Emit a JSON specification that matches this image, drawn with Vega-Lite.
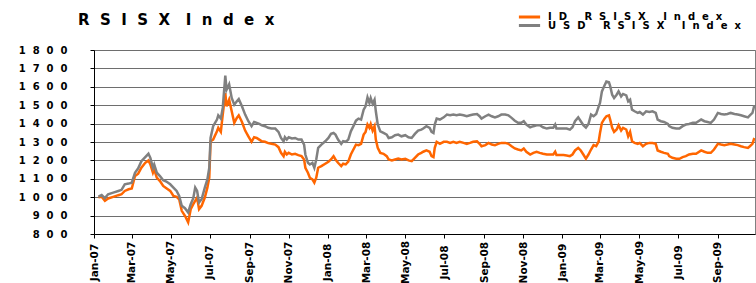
{
"$schema": "https://vega.github.io/schema/vega-lite/v6.json",
"width": 661,
"height": 184,
"autosize": {"type": "none"},
"padding": {"left": 94, "top": 50, "right": 1, "bottom": 49},
"background": "white",
"title": {"text": "R\u00a0\u00a0S\u00a0\u00a0I\u00a0\u00a0S\u00a0\u00a0X\u00a0\u00a0\u00a0I\u00a0\u00a0n\u00a0\u00a0d\u00a0\u00a0e\u00a0\u00a0x", "anchor": "start", "frame": "group", "dx": -16, "offset": -23.5, "font": "DejaVu Sans", "fontSize": 15, "fontWeight": "bold", "color": "black"},
"data": {"values": [
{"date":"2007-01-08","ID RSISX Index":1000,"USD RSISX Index":1003},
{"date":"2007-01-13","ID RSISX Index":1002,"USD RSISX Index":1012},
{"date":"2007-01-18","ID RSISX Index":980,"USD RSISX Index":995},
{"date":"2007-01-23","ID RSISX Index":993,"USD RSISX Index":1016},
{"date":"2007-01-31","ID RSISX Index":1002,"USD RSISX Index":1025},
{"date":"2007-02-08","ID RSISX Index":1011,"USD RSISX Index":1034},
{"date":"2007-02-13","ID RSISX Index":1016,"USD RSISX Index":1040},
{"date":"2007-02-18","ID RSISX Index":1034,"USD RSISX Index":1070},
{"date":"2007-02-24","ID RSISX Index":1043,"USD RSISX Index":1074},
{"date":"2007-03-01","ID RSISX Index":1047,"USD RSISX Index":1079},
{"date":"2007-03-06","ID RSISX Index":1115,"USD RSISX Index":1133},
{"date":"2007-03-11","ID RSISX Index":1128,"USD RSISX Index":1157},
{"date":"2007-03-16","ID RSISX Index":1160,"USD RSISX Index":1196},
{"date":"2007-03-22","ID RSISX Index":1187,"USD RSISX Index":1218},
{"date":"2007-03-27","ID RSISX Index":1200,"USD RSISX Index":1236},
{"date":"2007-03-30","ID RSISX Index":1178,"USD RSISX Index":1214},
{"date":"2007-04-03","ID RSISX Index":1133,"USD RSISX Index":1160},
{"date":"2007-04-05","ID RSISX Index":1151,"USD RSISX Index":1178},
{"date":"2007-04-09","ID RSISX Index":1106,"USD RSISX Index":1133},
{"date":"2007-04-14","ID RSISX Index":1088,"USD RSISX Index":1115},
{"date":"2007-04-19","ID RSISX Index":1061,"USD RSISX Index":1092},
{"date":"2007-04-24","ID RSISX Index":1049,"USD RSISX Index":1085},
{"date":"2007-04-30","ID RSISX Index":1034,"USD RSISX Index":1070},
{"date":"2007-05-05","ID RSISX Index":1007,"USD RSISX Index":1052},
{"date":"2007-05-10","ID RSISX Index":1002,"USD RSISX Index":1034},
{"date":"2007-05-14","ID RSISX Index":989,"USD RSISX Index":1007},
{"date":"2007-05-18","ID RSISX Index":926,"USD RSISX Index":953},
{"date":"2007-05-23","ID RSISX Index":899,"USD RSISX Index":940},
{"date":"2007-05-28","ID RSISX Index":863,"USD RSISX Index":917},
{"date":"2007-06-01","ID RSISX Index":935,"USD RSISX Index":962},
{"date":"2007-06-05","ID RSISX Index":962,"USD RSISX Index":995},
{"date":"2007-06-08","ID RSISX Index":980,"USD RSISX Index":1052},
{"date":"2007-06-11","ID RSISX Index":998,"USD RSISX Index":1034},
{"date":"2007-06-14","ID RSISX Index":935,"USD RSISX Index":971},
{"date":"2007-06-18","ID RSISX Index":953,"USD RSISX Index":989},
{"date":"2007-06-23","ID RSISX Index":998,"USD RSISX Index":1052},
{"date":"2007-06-27","ID RSISX Index":1052,"USD RSISX Index":1097},
{"date":"2007-06-30","ID RSISX Index":1106,"USD RSISX Index":1160},
{"date":"2007-07-02","ID RSISX Index":1304,"USD RSISX Index":1322},
{"date":"2007-07-06","ID RSISX Index":1313,"USD RSISX Index":1386},
{"date":"2007-07-12","ID RSISX Index":1359,"USD RSISX Index":1422},
{"date":"2007-07-14","ID RSISX Index":1377,"USD RSISX Index":1445},
{"date":"2007-07-18","ID RSISX Index":1355,"USD RSISX Index":1427},
{"date":"2007-07-21","ID RSISX Index":1449,"USD RSISX Index":1485},
{"date":"2007-07-25","ID RSISX Index":1566,"USD RSISX Index":1661},
{"date":"2007-07-27","ID RSISX Index":1494,"USD RSISX Index":1584},
{"date":"2007-07-31","ID RSISX Index":1530,"USD RSISX Index":1614},
{"date":"2007-08-04","ID RSISX Index":1467,"USD RSISX Index":1539},
{"date":"2007-08-08","ID RSISX Index":1404,"USD RSISX Index":1503},
{"date":"2007-08-12","ID RSISX Index":1431,"USD RSISX Index":1521},
{"date":"2007-08-15","ID RSISX Index":1445,"USD RSISX Index":1533},
{"date":"2007-08-20","ID RSISX Index":1409,"USD RSISX Index":1494},
{"date":"2007-08-25","ID RSISX Index":1362,"USD RSISX Index":1449},
{"date":"2007-08-30","ID RSISX Index":1331,"USD RSISX Index":1413},
{"date":"2007-09-04","ID RSISX Index":1301,"USD RSISX Index":1386},
{"date":"2007-09-08","ID RSISX Index":1326,"USD RSISX Index":1409},
{"date":"2007-09-12","ID RSISX Index":1322,"USD RSISX Index":1404},
{"date":"2007-09-16","ID RSISX Index":1313,"USD RSISX Index":1398},
{"date":"2007-09-20","ID RSISX Index":1304,"USD RSISX Index":1391},
{"date":"2007-09-25","ID RSISX Index":1301,"USD RSISX Index":1386},
{"date":"2007-09-30","ID RSISX Index":1294,"USD RSISX Index":1377},
{"date":"2007-10-05","ID RSISX Index":1290,"USD RSISX Index":1373},
{"date":"2007-10-11","ID RSISX Index":1286,"USD RSISX Index":1373},
{"date":"2007-10-16","ID RSISX Index":1272,"USD RSISX Index":1355},
{"date":"2007-10-20","ID RSISX Index":1241,"USD RSISX Index":1322},
{"date":"2007-10-24","ID RSISX Index":1223,"USD RSISX Index":1304},
{"date":"2007-10-26","ID RSISX Index":1247,"USD RSISX Index":1326},
{"date":"2007-10-29","ID RSISX Index":1232,"USD RSISX Index":1313},
{"date":"2007-11-01","ID RSISX Index":1241,"USD RSISX Index":1326},
{"date":"2007-11-06","ID RSISX Index":1232,"USD RSISX Index":1319},
{"date":"2007-11-11","ID RSISX Index":1236,"USD RSISX Index":1322},
{"date":"2007-11-16","ID RSISX Index":1229,"USD RSISX Index":1313},
{"date":"2007-11-21","ID RSISX Index":1223,"USD RSISX Index":1313},
{"date":"2007-11-25","ID RSISX Index":1205,"USD RSISX Index":1286},
{"date":"2007-11-27","ID RSISX Index":1160,"USD RSISX Index":1232},
{"date":"2007-12-01","ID RSISX Index":1133,"USD RSISX Index":1187},
{"date":"2007-12-04","ID RSISX Index":1106,"USD RSISX Index":1178},
{"date":"2007-12-08","ID RSISX Index":1097,"USD RSISX Index":1187},
{"date":"2007-12-11","ID RSISX Index":1079,"USD RSISX Index":1160},
{"date":"2007-12-14","ID RSISX Index":1106,"USD RSISX Index":1205},
{"date":"2007-12-17","ID RSISX Index":1160,"USD RSISX Index":1268},
{"date":"2007-12-22","ID RSISX Index":1169,"USD RSISX Index":1286},
{"date":"2007-12-28","ID RSISX Index":1182,"USD RSISX Index":1304},
{"date":"2008-01-02","ID RSISX Index":1193,"USD RSISX Index":1322},
{"date":"2008-01-06","ID RSISX Index":1205,"USD RSISX Index":1344},
{"date":"2008-01-10","ID RSISX Index":1223,"USD RSISX Index":1349},
{"date":"2008-01-13","ID RSISX Index":1205,"USD RSISX Index":1340},
{"date":"2008-01-17","ID RSISX Index":1187,"USD RSISX Index":1313},
{"date":"2008-01-22","ID RSISX Index":1169,"USD RSISX Index":1290},
{"date":"2008-01-25","ID RSISX Index":1182,"USD RSISX Index":1304},
{"date":"2008-01-29","ID RSISX Index":1178,"USD RSISX Index":1301},
{"date":"2008-02-02","ID RSISX Index":1193,"USD RSISX Index":1313},
{"date":"2008-02-06","ID RSISX Index":1232,"USD RSISX Index":1358},
{"date":"2008-02-10","ID RSISX Index":1259,"USD RSISX Index":1386},
{"date":"2008-02-14","ID RSISX Index":1286,"USD RSISX Index":1416},
{"date":"2008-02-18","ID RSISX Index":1283,"USD RSISX Index":1427},
{"date":"2008-02-22","ID RSISX Index":1290,"USD RSISX Index":1422},
{"date":"2008-02-26","ID RSISX Index":1340,"USD RSISX Index":1476},
{"date":"2008-02-29","ID RSISX Index":1355,"USD RSISX Index":1494},
{"date":"2008-03-03","ID RSISX Index":1395,"USD RSISX Index":1542},
{"date":"2008-03-06","ID RSISX Index":1377,"USD RSISX Index":1512},
{"date":"2008-03-08","ID RSISX Index":1397,"USD RSISX Index":1539},
{"date":"2008-03-11","ID RSISX Index":1362,"USD RSISX Index":1508},
{"date":"2008-03-14","ID RSISX Index":1386,"USD RSISX Index":1530},
{"date":"2008-03-16","ID RSISX Index":1313,"USD RSISX Index":1467},
{"date":"2008-03-19","ID RSISX Index":1268,"USD RSISX Index":1395},
{"date":"2008-03-23","ID RSISX Index":1241,"USD RSISX Index":1358},
{"date":"2008-03-28","ID RSISX Index":1236,"USD RSISX Index":1349},
{"date":"2008-04-02","ID RSISX Index":1223,"USD RSISX Index":1340},
{"date":"2008-04-05","ID RSISX Index":1205,"USD RSISX Index":1322},
{"date":"2008-04-10","ID RSISX Index":1200,"USD RSISX Index":1326},
{"date":"2008-04-15","ID RSISX Index":1205,"USD RSISX Index":1337},
{"date":"2008-04-20","ID RSISX Index":1210,"USD RSISX Index":1340},
{"date":"2008-04-25","ID RSISX Index":1205,"USD RSISX Index":1331},
{"date":"2008-05-01","ID RSISX Index":1209,"USD RSISX Index":1337},
{"date":"2008-05-06","ID RSISX Index":1200,"USD RSISX Index":1326},
{"date":"2008-05-11","ID RSISX Index":1196,"USD RSISX Index":1322},
{"date":"2008-05-16","ID RSISX Index":1214,"USD RSISX Index":1344},
{"date":"2008-05-21","ID RSISX Index":1232,"USD RSISX Index":1362},
{"date":"2008-05-26","ID RSISX Index":1241,"USD RSISX Index":1367},
{"date":"2008-05-29","ID RSISX Index":1247,"USD RSISX Index":1373},
{"date":"2008-06-03","ID RSISX Index":1254,"USD RSISX Index":1386},
{"date":"2008-06-08","ID RSISX Index":1247,"USD RSISX Index":1377},
{"date":"2008-06-11","ID RSISX Index":1223,"USD RSISX Index":1355},
{"date":"2008-06-14","ID RSISX Index":1218,"USD RSISX Index":1349},
{"date":"2008-06-16","ID RSISX Index":1268,"USD RSISX Index":1395},
{"date":"2008-06-19","ID RSISX Index":1301,"USD RSISX Index":1427},
{"date":"2008-06-24","ID RSISX Index":1290,"USD RSISX Index":1422},
{"date":"2008-06-30","ID RSISX Index":1301,"USD RSISX Index":1434},
{"date":"2008-07-05","ID RSISX Index":1301,"USD RSISX Index":1449},
{"date":"2008-07-10","ID RSISX Index":1295,"USD RSISX Index":1445},
{"date":"2008-07-15","ID RSISX Index":1301,"USD RSISX Index":1449},
{"date":"2008-07-20","ID RSISX Index":1295,"USD RSISX Index":1445},
{"date":"2008-07-25","ID RSISX Index":1301,"USD RSISX Index":1449},
{"date":"2008-07-31","ID RSISX Index":1295,"USD RSISX Index":1445},
{"date":"2008-08-05","ID RSISX Index":1290,"USD RSISX Index":1440},
{"date":"2008-08-10","ID RSISX Index":1295,"USD RSISX Index":1445},
{"date":"2008-08-15","ID RSISX Index":1301,"USD RSISX Index":1449},
{"date":"2008-08-21","ID RSISX Index":1304,"USD RSISX Index":1452},
{"date":"2008-08-25","ID RSISX Index":1290,"USD RSISX Index":1440},
{"date":"2008-08-28","ID RSISX Index":1277,"USD RSISX Index":1427},
{"date":"2008-09-03","ID RSISX Index":1283,"USD RSISX Index":1440},
{"date":"2008-09-08","ID RSISX Index":1295,"USD RSISX Index":1449},
{"date":"2008-09-13","ID RSISX Index":1286,"USD RSISX Index":1440},
{"date":"2008-09-18","ID RSISX Index":1283,"USD RSISX Index":1434},
{"date":"2008-09-23","ID RSISX Index":1290,"USD RSISX Index":1440},
{"date":"2008-09-28","ID RSISX Index":1295,"USD RSISX Index":1449},
{"date":"2008-10-04","ID RSISX Index":1295,"USD RSISX Index":1449},
{"date":"2008-10-09","ID RSISX Index":1290,"USD RSISX Index":1445},
{"date":"2008-10-14","ID RSISX Index":1277,"USD RSISX Index":1431},
{"date":"2008-10-19","ID RSISX Index":1265,"USD RSISX Index":1416},
{"date":"2008-10-24","ID RSISX Index":1259,"USD RSISX Index":1404},
{"date":"2008-10-29","ID RSISX Index":1254,"USD RSISX Index":1404},
{"date":"2008-11-02","ID RSISX Index":1265,"USD RSISX Index":1413},
{"date":"2008-11-06","ID RSISX Index":1247,"USD RSISX Index":1395},
{"date":"2008-11-12","ID RSISX Index":1232,"USD RSISX Index":1380},
{"date":"2008-11-17","ID RSISX Index":1241,"USD RSISX Index":1386},
{"date":"2008-11-22","ID RSISX Index":1247,"USD RSISX Index":1391},
{"date":"2008-11-27","ID RSISX Index":1241,"USD RSISX Index":1391},
{"date":"2008-12-02","ID RSISX Index":1236,"USD RSISX Index":1380},
{"date":"2008-12-08","ID RSISX Index":1232,"USD RSISX Index":1373},
{"date":"2008-12-13","ID RSISX Index":1232,"USD RSISX Index":1377},
{"date":"2008-12-18","ID RSISX Index":1232,"USD RSISX Index":1377},
{"date":"2008-12-21","ID RSISX Index":1247,"USD RSISX Index":1395},
{"date":"2008-12-23","ID RSISX Index":1229,"USD RSISX Index":1373},
{"date":"2008-12-29","ID RSISX Index":1229,"USD RSISX Index":1373},
{"date":"2009-01-03","ID RSISX Index":1229,"USD RSISX Index":1373},
{"date":"2009-01-08","ID RSISX Index":1227,"USD RSISX Index":1373},
{"date":"2009-01-13","ID RSISX Index":1223,"USD RSISX Index":1367},
{"date":"2009-01-17","ID RSISX Index":1232,"USD RSISX Index":1380},
{"date":"2009-01-21","ID RSISX Index":1254,"USD RSISX Index":1413},
{"date":"2009-01-26","ID RSISX Index":1268,"USD RSISX Index":1434},
{"date":"2009-01-30","ID RSISX Index":1254,"USD RSISX Index":1413},
{"date":"2009-02-03","ID RSISX Index":1232,"USD RSISX Index":1391},
{"date":"2009-02-07","ID RSISX Index":1210,"USD RSISX Index":1378},
{"date":"2009-02-11","ID RSISX Index":1232,"USD RSISX Index":1398},
{"date":"2009-02-15","ID RSISX Index":1259,"USD RSISX Index":1449},
{"date":"2009-02-19","ID RSISX Index":1283,"USD RSISX Index":1440},
{"date":"2009-02-23","ID RSISX Index":1277,"USD RSISX Index":1452},
{"date":"2009-02-27","ID RSISX Index":1304,"USD RSISX Index":1494},
{"date":"2009-03-01","ID RSISX Index":1349,"USD RSISX Index":1512},
{"date":"2009-03-04","ID RSISX Index":1404,"USD RSISX Index":1575},
{"date":"2009-03-08","ID RSISX Index":1427,"USD RSISX Index":1607},
{"date":"2009-03-11","ID RSISX Index":1440,"USD RSISX Index":1629},
{"date":"2009-03-15","ID RSISX Index":1445,"USD RSISX Index":1625},
{"date":"2009-03-17","ID RSISX Index":1420,"USD RSISX Index":1602},
{"date":"2009-03-20","ID RSISX Index":1377,"USD RSISX Index":1557},
{"date":"2009-03-23","ID RSISX Index":1355,"USD RSISX Index":1539},
{"date":"2009-03-27","ID RSISX Index":1368,"USD RSISX Index":1557},
{"date":"2009-03-30","ID RSISX Index":1391,"USD RSISX Index":1575},
{"date":"2009-04-03","ID RSISX Index":1362,"USD RSISX Index":1548},
{"date":"2009-04-06","ID RSISX Index":1377,"USD RSISX Index":1561},
{"date":"2009-04-11","ID RSISX Index":1368,"USD RSISX Index":1553},
{"date":"2009-04-14","ID RSISX Index":1331,"USD RSISX Index":1521},
{"date":"2009-04-17","ID RSISX Index":1355,"USD RSISX Index":1530},
{"date":"2009-04-20","ID RSISX Index":1304,"USD RSISX Index":1476},
{"date":"2009-04-24","ID RSISX Index":1295,"USD RSISX Index":1467},
{"date":"2009-04-29","ID RSISX Index":1290,"USD RSISX Index":1458},
{"date":"2009-05-02","ID RSISX Index":1295,"USD RSISX Index":1463},
{"date":"2009-05-07","ID RSISX Index":1277,"USD RSISX Index":1449},
{"date":"2009-05-12","ID RSISX Index":1290,"USD RSISX Index":1467},
{"date":"2009-05-17","ID RSISX Index":1295,"USD RSISX Index":1463},
{"date":"2009-05-22","ID RSISX Index":1294,"USD RSISX Index":1467},
{"date":"2009-05-27","ID RSISX Index":1290,"USD RSISX Index":1458},
{"date":"2009-05-30","ID RSISX Index":1254,"USD RSISX Index":1422},
{"date":"2009-06-04","ID RSISX Index":1247,"USD RSISX Index":1413},
{"date":"2009-06-09","ID RSISX Index":1241,"USD RSISX Index":1409},
{"date":"2009-06-15","ID RSISX Index":1236,"USD RSISX Index":1398},
{"date":"2009-06-17","ID RSISX Index":1223,"USD RSISX Index":1386},
{"date":"2009-06-22","ID RSISX Index":1214,"USD RSISX Index":1377},
{"date":"2009-06-28","ID RSISX Index":1209,"USD RSISX Index":1373},
{"date":"2009-07-03","ID RSISX Index":1209,"USD RSISX Index":1373},
{"date":"2009-07-08","ID RSISX Index":1218,"USD RSISX Index":1386},
{"date":"2009-07-13","ID RSISX Index":1223,"USD RSISX Index":1395},
{"date":"2009-07-18","ID RSISX Index":1232,"USD RSISX Index":1398},
{"date":"2009-07-24","ID RSISX Index":1236,"USD RSISX Index":1404},
{"date":"2009-07-29","ID RSISX Index":1236,"USD RSISX Index":1404},
{"date":"2009-08-06","ID RSISX Index":1254,"USD RSISX Index":1422},
{"date":"2009-08-11","ID RSISX Index":1247,"USD RSISX Index":1413},
{"date":"2009-08-16","ID RSISX Index":1241,"USD RSISX Index":1409},
{"date":"2009-08-21","ID RSISX Index":1241,"USD RSISX Index":1404},
{"date":"2009-08-26","ID RSISX Index":1259,"USD RSISX Index":1422},
{"date":"2009-09-01","ID RSISX Index":1290,"USD RSISX Index":1458},
{"date":"2009-09-06","ID RSISX Index":1286,"USD RSISX Index":1452},
{"date":"2009-09-11","ID RSISX Index":1283,"USD RSISX Index":1449},
{"date":"2009-09-16","ID RSISX Index":1286,"USD RSISX Index":1452},
{"date":"2009-09-21","ID RSISX Index":1290,"USD RSISX Index":1458},
{"date":"2009-09-27","ID RSISX Index":1286,"USD RSISX Index":1452},
{"date":"2009-10-02","ID RSISX Index":1283,"USD RSISX Index":1449},
{"date":"2009-10-07","ID RSISX Index":1277,"USD RSISX Index":1445},
{"date":"2009-10-12","ID RSISX Index":1272,"USD RSISX Index":1440},
{"date":"2009-10-18","ID RSISX Index":1268,"USD RSISX Index":1434},
{"date":"2009-10-21","ID RSISX Index":1277,"USD RSISX Index":1445},
{"date":"2009-10-25","ID RSISX Index":1290,"USD RSISX Index":1458},
{"date":"2009-10-28","ID RSISX Index":1322,"USD RSISX Index":1500}
]},
"transform": [{"fold": ["ID RSISX Index", "USD RSISX Index"], "as": ["series", "value"]}],
"encoding": {
  "x": {"field": "date", "type": "temporal",
    "scale": {"domain": [{"year": 2007, "month": 1, "date": 1}, {"year": 2009, "month": 10, "date": 29}]},
    "axis": {"title": null, "format": "%b-%y", "tickCount": {"interval": "month", "step": 2}, "labelAngle": -90, "labelAlign": "center", "labelBaseline": "middle", "labelPadding": 24, "labelOverlap": false, "labelBound": false, "labelFlush": false, "labelFont": "DejaVu Sans", "labelFontWeight": "bold", "labelFontSize": 10.5, "labelColor": "black", "tickColor": "black", "tickSize": 4, "domainColor": "black", "grid": false}},
  "y": {"field": "value", "type": "quantitative",
    "scale": {"domain": [800, 1800], "nice": false, "zero": false},
    "axis": {"title": null, "values": [800, 900, 1000, 1100, 1200, 1300, 1400, 1500, 1600, 1700, 1800], "format": "d", "labelExpr": "join(split(datum.label, ''), '\u00a0\u00a0')", "labelFont": "DejaVu Sans", "labelFontWeight": "bold", "labelFontSize": 10, "labelColor": "black", "labelPadding": 23, "tickColor": "black", "tickSize": 4, "domainColor": "black", "grid": true, "gridColor": "#6e6e6e", "gridWidth": 1}}
},
"layer": [
  {
    "transform": [{"filter": "datum.series == 'ID RSISX Index'"}],
    "mark": {"type": "line", "strokeWidth": 2.5, "clip": true},
    "encoding": {
      "color": {"field": "series", "type": "nominal",
        "scale": {"domain": ["ID RSISX Index"], "range": ["#FF6600"]},
        "legend": {"title": null, "orient": "none", "legendX": 423, "legendY": -45.5, "padding": 0, "symbolType": "stroke", "symbolSize": 450, "symbolStrokeWidth": 3, "labelOffset": 6, "labelLimit": 0, "labelExpr": "replace(join(split(datum.label, ''), '\u00a0\u00a0'), / /g, '\u00a0')", "labelFont": "DejaVu Sans", "labelFontWeight": "bold", "labelFontSize": 10, "labelColor": "black"}}
    }
  },
  {
    "transform": [{"filter": "datum.series == 'USD RSISX Index'"}],
    "mark": {"type": "line", "strokeWidth": 2.5, "clip": true},
    "encoding": {
      "color": {"field": "series", "type": "nominal",
        "scale": {"domain": ["USD RSISX Index"], "range": ["#808080"]},
        "legend": {"title": null, "orient": "none", "legendX": 423, "legendY": -37, "padding": 0, "symbolType": "stroke", "symbolSize": 450, "symbolStrokeWidth": 3, "labelOffset": 6, "labelLimit": 0, "labelExpr": "replace(join(split(datum.label, ''), '\u00a0\u00a0'), / /g, '\u00a0')", "labelFont": "DejaVu Sans", "labelFontWeight": "bold", "labelFontSize": 10, "labelColor": "black"}}
    }
  }
],
"resolve": {"scale": {"color": "independent"}, "legend": {"color": "independent"}},
"config": {"view": {"stroke": "#808080"}}
}
